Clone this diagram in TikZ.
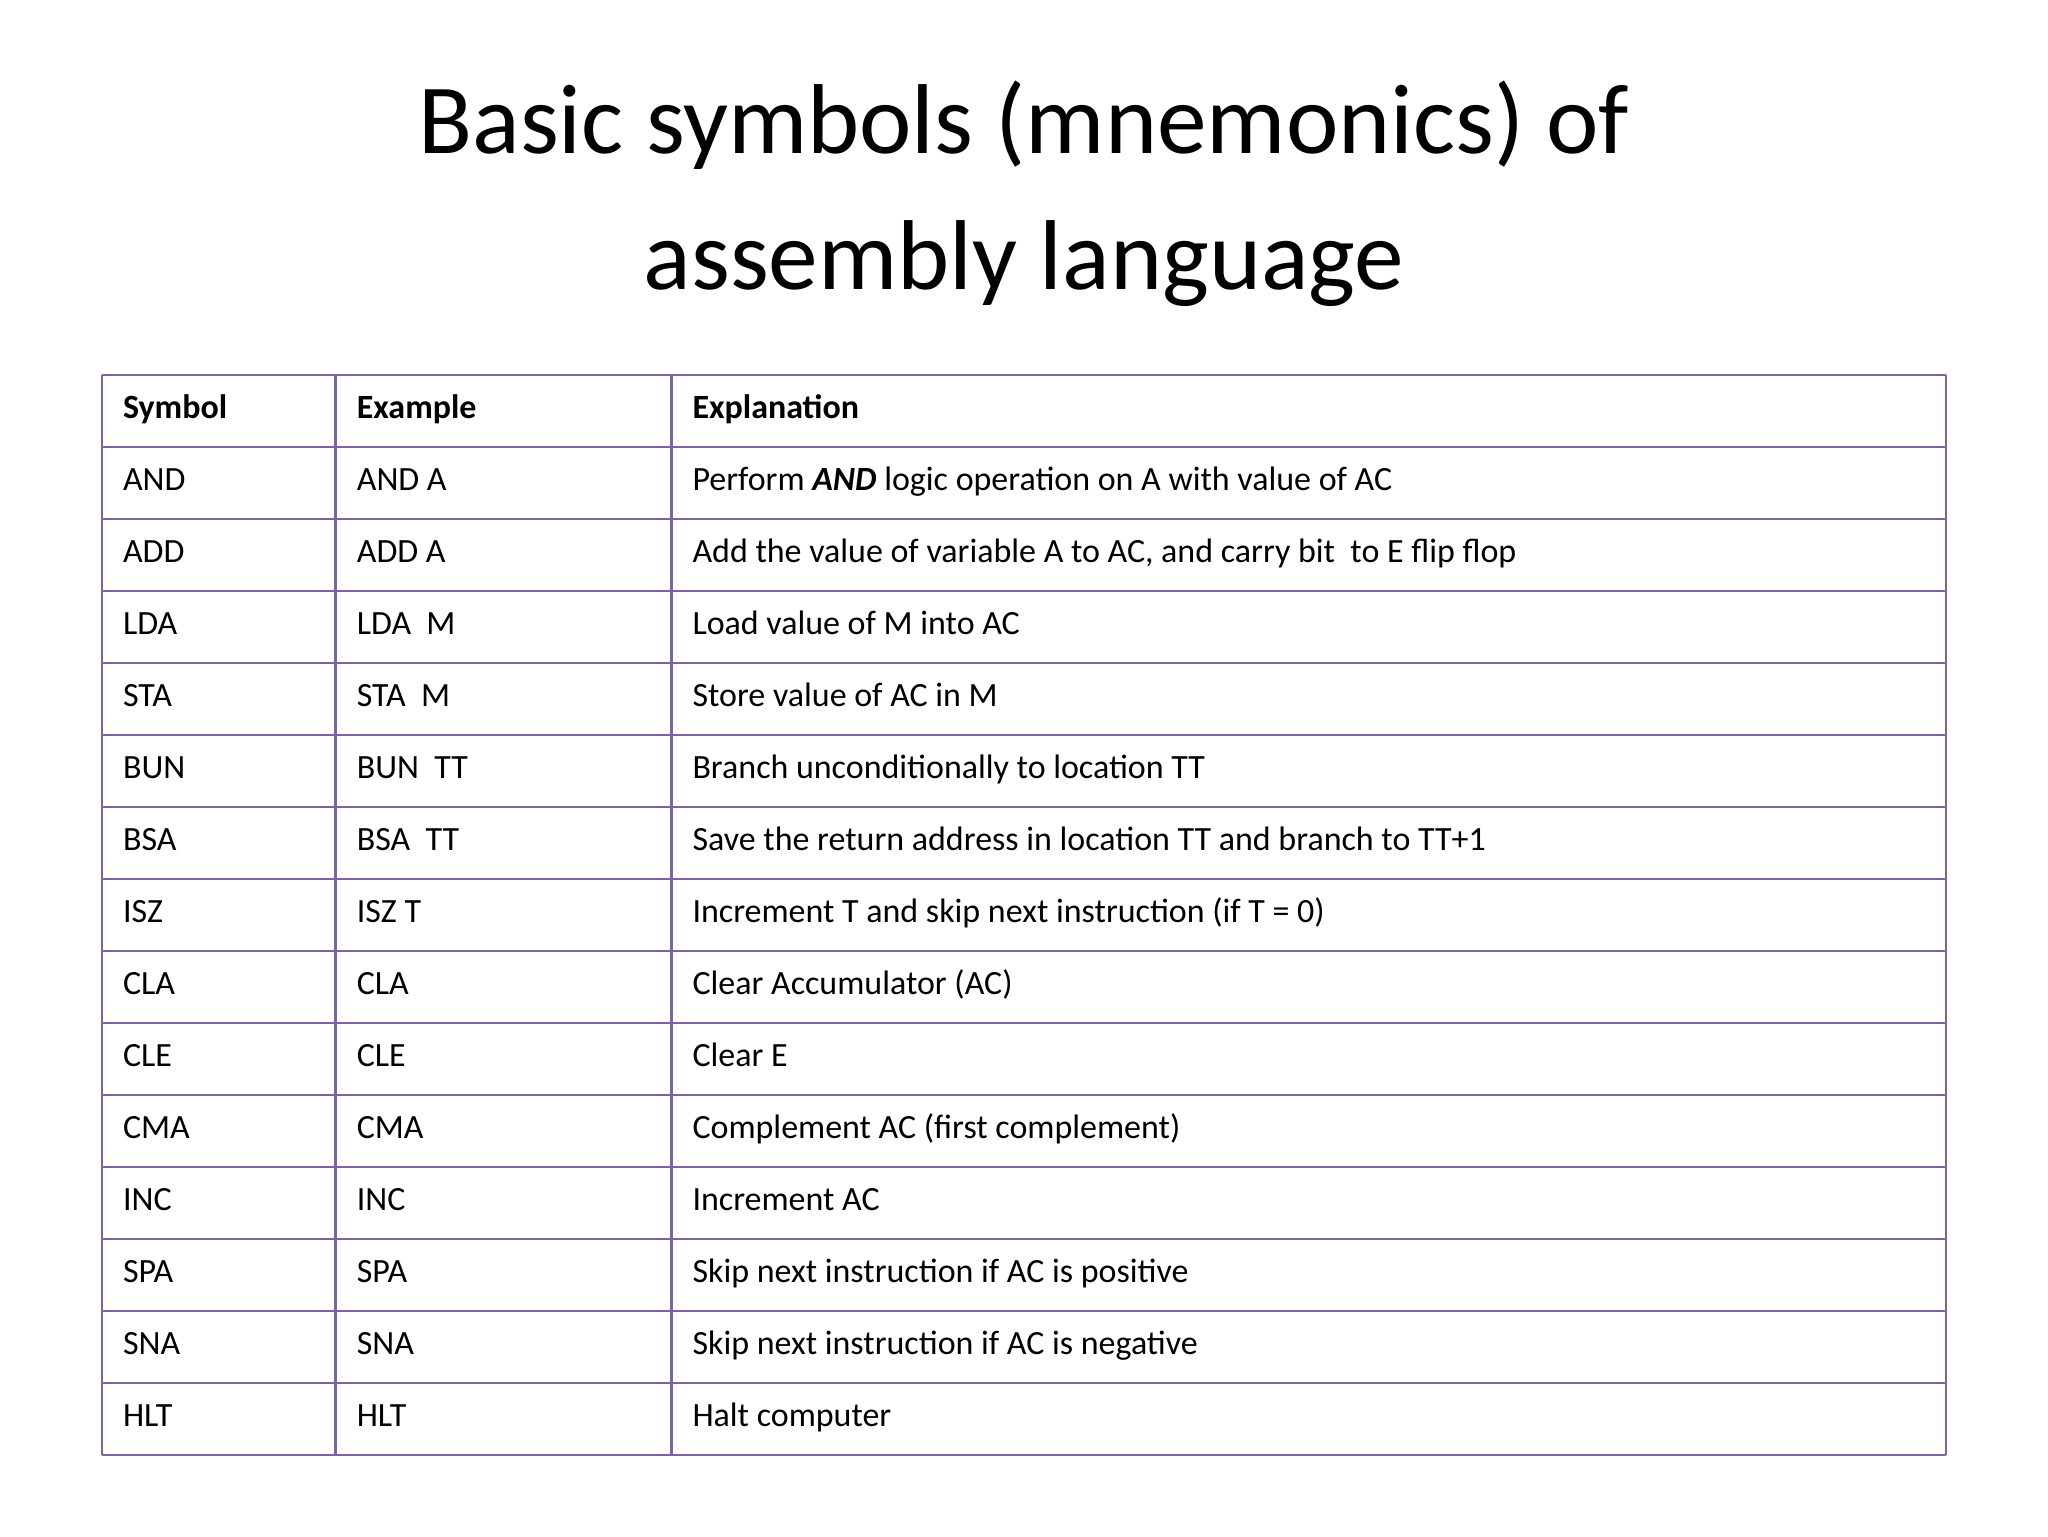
\documentclass[tikz,border=0pt]{standalone}
\usepackage{fontspec}
\setmainfont{Carlito}
\definecolor{grid}{HTML}{8064A2}
\begin{document}
\begin{tikzpicture}[x=1pt,y=-1pt,
  cell/.style={anchor=west,inner sep=0pt,font=\fontsize{26}{30}\selectfont},
  ttl/.style={align=center,font=\fontsize{76}{104}\selectfont}]
\useasboundingbox (0,0) rectangle (1568,1176);
\node[ttl] (title) at (784,148) {Basic symbols (mnemonics) of\\assembly language};
\def\rh{55.13}
\foreach \i in {0,...,15}{\draw[grid,line width=2pt] (78,287+\i*\rh) -- (1490,287+\i*\rh);}
\foreach \x in {78,257,514,1490}{\draw[grid,line width=2pt] (\x,287) -- (\x,1114);}
\foreach [count=\i from 0] \a/\b/\c in {
 {\textbf{Symbol}}/{\textbf{Example}}/{\textbf{Explanation}},
 AND/AND A/{Perform \textbf{\textit{AND}} logic operation on A with value of AC},
 ADD/ADD A/{Add the value of variable A to AC, and carry bit\ \ to E flip flop},
 LDA/LDA\ \ M/{Load value of M into AC},
 STA/STA\ \ M/{Store value of AC in M},
 BUN/BUN\ \ TT/{Branch unconditionally to location TT},
 BSA/BSA\ \ TT/{Save the return address in location TT and branch to TT+1},
 ISZ/ISZ T/{Increment T and skip next instruction (if T = 0)},
 CLA/CLA/{Clear Accumulator (AC)},
 CLE/CLE/{Clear E},
 CMA/CMA/{Complement AC (first complement)},
 INC/INC/{Increment AC},
 SPA/SPA/{Skip next instruction if AC is positive},
 SNA/SNA/{Skip next instruction if AC is negative},
 HLT/HLT/{Halt computer}}{
 \node[cell] (s\i) at (94,287+\i*\rh+\rh/2) {\strut\a};
 \node[cell] (e\i) at (273,287+\i*\rh+\rh/2) {\strut\b};
 \node[cell] (x\i) at (530,287+\i*\rh+\rh/2) {\strut\c};
}
\end{tikzpicture}
\end{document}
